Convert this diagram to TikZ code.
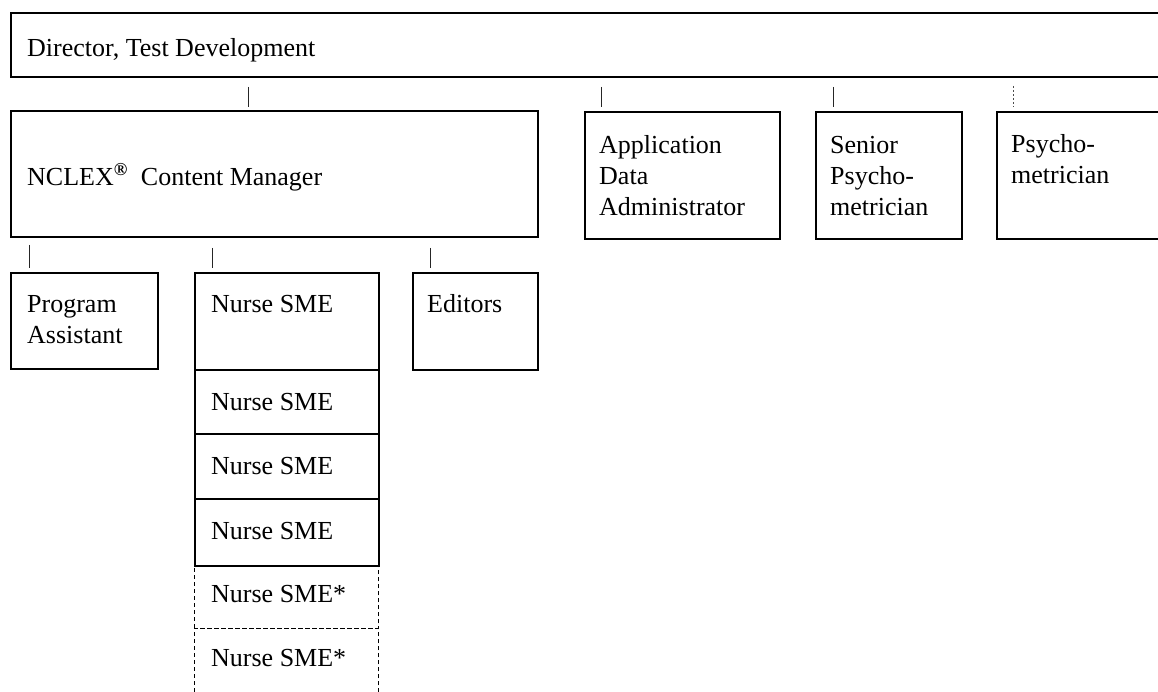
\documentclass[tikz,border=0pt]{standalone}
\usepackage{fontspec}
\setmainfont{Liberation Serif}
\usetikzlibrary{calc}
\begin{document}
\begin{tikzpicture}[x=1pt,y=-1pt,
  box/.style={draw=black,line width=1.8pt,inner sep=0pt,anchor=north west},
  dbox/.style={draw=black,line width=0.9pt,dash pattern=on 4pt off 3pt,inner sep=0pt,anchor=north west},
  tickline/.style={line width=0.9pt,draw=black!85},
  dtickline/.style={line width=0.9pt,draw=black!70,dash pattern=on 2pt off 2pt},
  lbl/.style={anchor=base west,inner sep=0pt,font=\fontsize{26}{31}\selectfont}]
\useasboundingbox (0,0) rectangle (1158,691);
\clip (0,0) rectangle (1158,691);
\fill[white] (0,0) rectangle (1158,691);

% dashed boxes (drawn first)
\node[dbox,minimum width=184pt,minimum height=63pt] (n5) at (194,565) {};
\node[dbox,minimum width=184pt,minimum height=90pt] (n6) at (194,628) {};

% solid boxes
\node[box,minimum width=1170pt,minimum height=64pt] (dir) at (10,12) {};
\node[box,minimum width=527pt,minimum height=126pt] (nclex) at (10,110) {};
\node[box,minimum width=195pt,minimum height=127pt] (app) at (584,111) {};
\node[box,minimum width=146pt,minimum height=127pt] (senior) at (815,111) {};
\node[box,minimum width=200pt,minimum height=127pt] (psy) at (996,111) {};
\node[box,minimum width=147pt,minimum height=96pt] (pa) at (10,272) {};
\node[box,minimum width=184pt,minimum height=97pt] (n1) at (194,272) {};
\node[box,minimum width=184pt,minimum height=64pt] (n2) at (194,369) {};
\node[box,minimum width=184pt,minimum height=65pt] (n3) at (194,433) {};
\node[box,minimum width=184pt,minimum height=67pt] (n4) at (194,498) {};
\node[box,minimum width=125pt,minimum height=97pt] (ed) at (412,272) {};

% connector ticks
\draw[tickline] ($(dir.south west)+(238,9)$) -- ($(nclex.north west)+(238,-3)$);
\draw[tickline] ($(dir.south west)+(591,9)$) -- ($(app.north west)+(17,-4)$);
\draw[tickline] ($(dir.south west)+(823,9)$) -- ($(senior.north west)+(18,-4)$);
\draw[dtickline] ($(dir.south west)+(1003,8)$) -- ($(psy.north west)+(17,-4)$);
\draw[tickline] ($(nclex.south west)+(19,7)$) -- ($(pa.north west)+(19,-4)$);
\draw[tickline] ($(nclex.south west)+(202,10)$) -- ($(n1.north west)+(18,-4)$);
\draw[tickline] ($(nclex.south west)+(420,10)$) -- ($(ed.north west)+(18,-4)$);

% labels
\node[lbl] (tdir) at (27,56) {Director, Test Development};
\node[lbl] (tnclex) at (27,185) {NCLEX\textsuperscript{\textbf{®}}\ \ Content Manager};
\node[lbl] (tapp1) at (599,153) {Application};
\node[lbl] (tapp2) at (599,184) {Data};
\node[lbl] (tapp3) at (599,215) {Administrator};
\node[lbl] (tsen1) at (830,153) {Senior};
\node[lbl] (tsen2) at (830,184) {Psycho-};
\node[lbl] (tsen3) at (830,215) {metrician};
\node[lbl] (tpsy1) at (1011,152) {Psycho-};
\node[lbl] (tpsy2) at (1011,183) {metrician};
\node[lbl] (tpa1) at (27,312) {Program};
\node[lbl] (tpa2) at (27,343) {Assistant};
\node[lbl] (tn1) at (211,312) {Nurse SME};
\node[lbl] (ted) at (427,312) {Editors};
\node[lbl] (tn2) at (211,410) {Nurse SME};
\node[lbl] (tn3) at (211,474) {Nurse SME};
\node[lbl] (tn4) at (211,539) {Nurse SME};
\node[lbl] (tn5) at (211,602) {Nurse SME*};
\node[lbl] (tn6) at (211,666) {Nurse SME*};
\end{tikzpicture}
\end{document}
